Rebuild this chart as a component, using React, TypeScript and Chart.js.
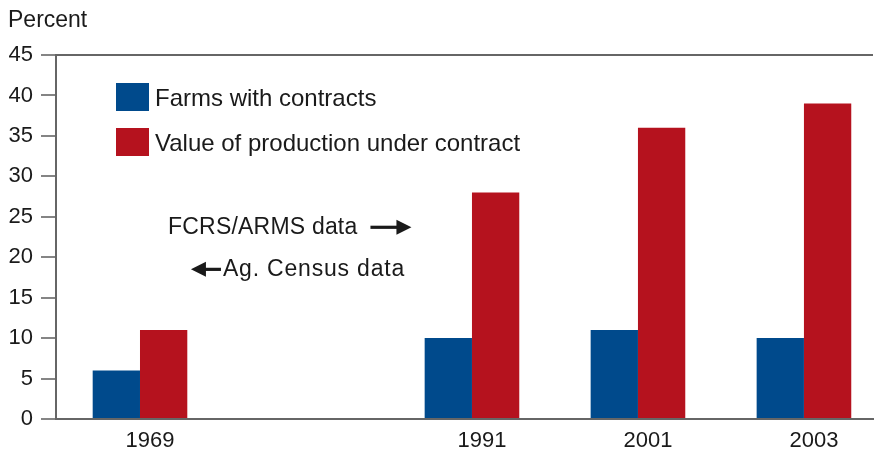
import React, { useEffect, useRef } from 'react';
import { Chart, registerables } from 'chart.js';

Chart.register(...registerables);

// ---- data ----
const categories = ['1969', '', '1991', '2001', '2003'];
const farmsWithContracts: (number | null)[] = [6, null, 10, 11, 10];
const valueUnderContract: (number | null)[] = [11, null, 28, 36, 39];
const seriesNames = ['Farms with contracts', 'Value of production under contract'];
const yTickValues = [0, 5, 10, 15, 20, 25, 30, 35, 40, 45];
const yAxisTitle = 'Percent';
const noteRight = 'FCRS/ARMS data';
const noteLeft = 'Ag. Census data';

const FONT = "'Liberation Sans', Arial, Helvetica, sans-serif";
const BLUE = '#004a8c';
const RED = '#b5121e';
const AXIS = '#666666';
const TEXT = '#1a1a1a';

const toPoints = (vals: (number | null)[]) =>
  categories
    .map((_, i) => ({ x: i, y: vals[i] }))
    .filter((p) => p.y !== null) as { x: number; y: number }[];

const overlayPlugin = {
  id: 'overlay',
  afterDraw(chart: any) {
    const { ctx, chartArea, scales } = chart;
    const xs = scales.x;
    const ys = scales.y;
    ctx.save();
    ctx.fillStyle = TEXT;
    // axis title
    ctx.font = `23px ${FONT}`;
    ctx.textBaseline = 'middle';
    ctx.textAlign = 'left';
    ctx.fillText(yAxisTitle, 8, 21);

    // legend
    const colors = [BLUE, RED];
    chart.data.datasets.forEach((ds: any, i: number) => {
      const bx = chartArea.left + 60;
      const by = chartArea.top + 28 + i * 45;
      ctx.fillStyle = colors[i];
      ctx.fillRect(bx, by, 33, 28);
      ctx.fillStyle = TEXT;
      ctx.font = `24px ${FONT}`;
      ctx.fillText(ds.label, bx + 39, by + 16);
    });

    // annotations
    ctx.font = `23px ${FONT}`;
    const drawArrow = (x0: number, x1: number, y: number) => {
      const dir = Math.sign(x1 - x0);
      const head = 15;
      ctx.lineWidth = 3.2;
      ctx.strokeStyle = TEXT;
      ctx.beginPath();
      ctx.moveTo(x0, y);
      ctx.lineTo(x1 - dir * head + dir * 1, y);
      ctx.stroke();
      ctx.beginPath();
      ctx.moveTo(x1, y);
      ctx.lineTo(x1 - dir * head, y - 7.5);
      ctx.lineTo(x1 - dir * head, y + 7.5);
      ctx.closePath();
      ctx.fill();
    };
    // right-pointing note
    const rx = xs.getPixelForValue(0.169);
    const ry = ys.getPixelForValue(23.7);
    ctx.fillStyle = TEXT;
    (ctx as any).letterSpacing = '0.2px';
    ctx.fillText(noteRight, rx, ry);
    const rw = ctx.measureText(noteRight).width;
    drawArrow(rx + rw + 13, rx + rw + 54, ry);
    // left-pointing note
    const lx = xs.getPixelForValue(0.307);
    const ly = ys.getPixelForValue(18.5);
    drawArrow(lx + 30, lx, ly);
    (ctx as any).letterSpacing = '0.8px';
    ctx.fillText(noteLeft, lx + 32, ly);
    ctx.restore();
  },
};

export default function App() {
  const ref = useRef<HTMLCanvasElement | null>(null);
  useEffect(() => {
    document.body.style.margin = '0';
    const chart = new Chart(ref.current!, {
      type: 'bar',
      data: {
        datasets: [
          {
            label: seriesNames[0],
            data: toPoints(farmsWithContracts),
            backgroundColor: BLUE,
            borderWidth: 0,
          },
          {
            label: seriesNames[1],
            data: toPoints(valueUnderContract),
            backgroundColor: RED,
            borderWidth: 0,
          },
        ],
      },
      options: {
        animation: false,
        responsive: false,
        events: [],
        layout: { padding: { left: 0, top: 55, right: 1, bottom: 0 } },
        datasets: { bar: { categoryPercentage: 0.57, barPercentage: 1 } },
        plugins: { legend: { display: false }, tooltip: { enabled: false } },
        scales: {
          x: {
            type: 'linear',
            offset: false,
            min: -0.506,
            max: 4.416,
            afterBuildTicks: (scale: any) => {
              scale.ticks = categories
                .map((c, i) => (c ? { value: i } : null))
                .filter(Boolean);
            },
            afterFit: (scale: any) => {
              scale.height = 32;
            },
            grid: { display: false, drawTicks: false, offset: false },
            border: { display: true, color: AXIS, width: 2 },
            ticks: {
              padding: 9,
              labelOffset: 10,
              color: TEXT,
              font: { family: FONT, size: 22 },
              callback: (v: any) => categories[v as number] ?? '',
              maxRotation: 0,
              autoSkip: false,
            },
          },
          y: {
            min: 0,
            max: 45,
            afterBuildTicks: (scale: any) => {
              scale.ticks = yTickValues.map((v) => ({ value: v }));
            },
            afterFit: (scale: any) => {
              scale.width = 56;
            },
            grid: {
              display: true,
              drawOnChartArea: true,
              drawTicks: true,
              tickLength: 15,
              tickColor: AXIS,
              tickWidth: 1.6,
              lineWidth: 2,
              color: (c: any) => (c.tick && c.tick.value === 45 ? AXIS : 'rgba(0,0,0,0)'),
            },
            border: { display: true, color: AXIS, width: 2 },
            ticks: {
              padding: 8,
              color: TEXT,
              font: { family: FONT, size: 22 },
            },
          },
        },
      },
      plugins: [overlayPlugin],
    } as any);
    return () => chart.destroy();
  }, []);
  return (
    <div style={{ position: 'fixed', left: 0, top: 0, width: 874, height: 451 }}>
      <canvas ref={ref} width={874} height={451} style={{ display: 'block' }} />
    </div>
  );
}
